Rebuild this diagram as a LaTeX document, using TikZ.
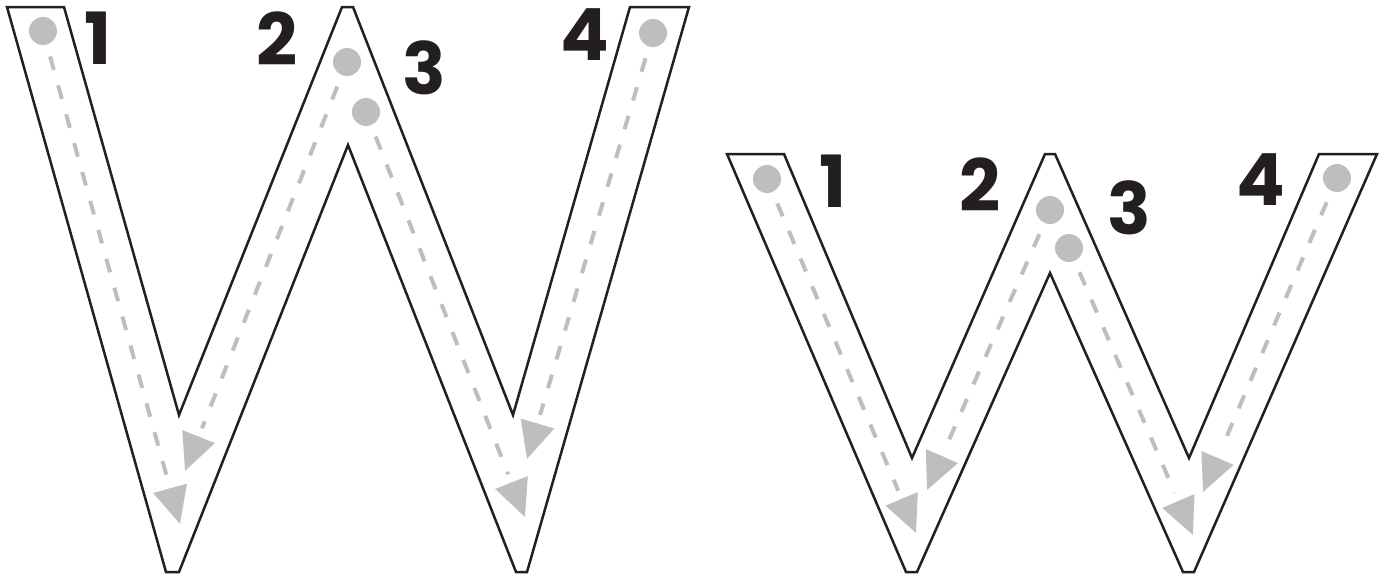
\documentclass[tikz,border=0pt]{standalone}
\usepackage{fontspec}
\newfontfamily\numfont{Poppins}
\usetikzlibrary{arrows.meta,calc}
\definecolor{guidegray}{HTML}{BCBEC0}
\definecolor{inkblack}{HTML}{231F20}
\begin{document}
\begin{tikzpicture}[x=0.5pt, y=-0.5pt,
  outline/.style={draw=inkblack, line width=1.25pt, fill=white},
  dot/.style={circle, fill=guidegray, inner sep=0pt, minimum size=14pt},
  guide/.style={draw=guidegray, line width=2pt, dash pattern=on 7pt off 8pt,
    shorten <=6pt, shorten >=23pt},
  head/.style={draw=guidegray, line width=2pt, -{Triangle[length=18.5pt, width=17pt]}},
  num/.style={inner sep=0pt, text=inkblack, font=\numfont\bfseries\fontsize{36}{36}\selectfont}]
\useasboundingbox (0,0) rectangle (1386,578);

% big W
\draw[outline] (7,7) -- (64,7) -- (179,415) -- (342,7) -- (353,7) -- (513,415) -- (630,7) -- (689,7) -- (527,572) -- (516,572) -- (348,145) -- (179,572) -- (166,572) -- cycle;

\node[dot] (b1) at (43,31) {};
\node[dot] (b2) at (347,62) {};
\node[dot] (b3) at (366,112) {};
\node[dot] (b4) at (653,33) {};
\coordinate (bt1) at (180,524);
\coordinate (bt2) at (185,471);
\coordinate (bt3) at (525,517);
\coordinate (bt4) at (527,459);

\draw[guide] (b1) -- (bt1);
\draw[guide] (b2) -- (bt2);
\draw[guide] (b3) -- (bt3);
\draw[guide] (b4) -- (bt4);
\draw[head] ($(bt1)!18.5pt!(b1)$) -- (bt1);
\draw[head] ($(bt2)!18.5pt!(b2)$) -- (bt2);
\draw[head] ($(bt3)!18.5pt!(b3)$) -- (bt3);
\draw[head] ($(bt4)!18.5pt!(b4)$) -- (bt4);

\node[num] (bn1) at (98,38) {1};
\node[num] (bn2) at (277,39) {2};
\node[num] (bn3) at (424,68) {3};
\node[num] (bn4) at (585,35) {4};

% small w
\draw[outline] (727,154) -- (784,154) -- (912,458) -- (1045,154) -- (1055,154) -- (1189,458) -- (1319,154) -- (1377,154) -- (1194,572) -- (1183,572) -- (1050,273) -- (917,572) -- (906,572) -- cycle;

\node[dot] (s1) at (767,179) {};
\node[dot] (s2) at (1050,210) {};
\node[dot] (s3) at (1069,248) {};
\node[dot] (s4) at (1337,178) {};
\coordinate (st1) at (916,533);
\coordinate (st2) at (927,490);
\coordinate (st3) at (1193,535);
\coordinate (st4) at (1203,492);

\draw[guide] (s1) -- (st1);
\draw[guide] (s2) -- (st2);
\draw[guide] (s3) -- (st3);
\draw[guide] (s4) -- (st4);
\draw[head] ($(st1)!18.5pt!(s1)$) -- (st1);
\draw[head] ($(st2)!18.5pt!(s2)$) -- (st2);
\draw[head] ($(st3)!18.5pt!(s3)$) -- (st3);
\draw[head] ($(st4)!18.5pt!(s4)$) -- (st4);

\node[num] (sn1) at (833,181) {1};
\node[num] (sn2) at (980,185) {2};
\node[num] (sn3) at (1129,208) {3};
\node[num] (sn4) at (1261,180) {4};

\end{tikzpicture}
\end{document}
